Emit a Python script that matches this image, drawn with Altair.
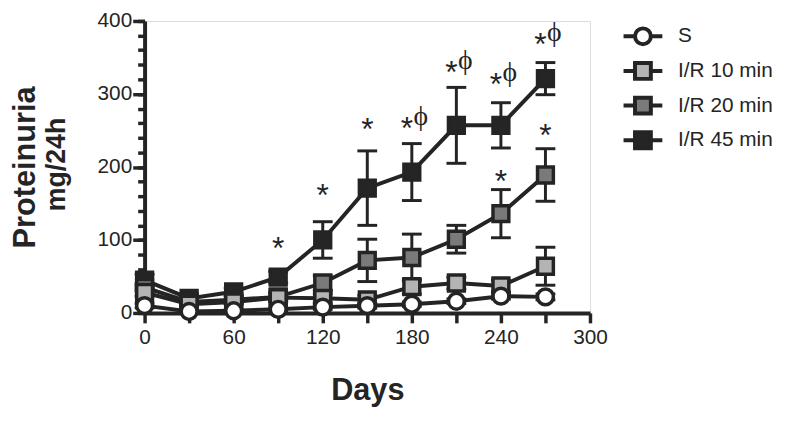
import altair as alt
import pandas as pd

# ---- data ----
days = [0, 30, 60, 90, 120, 150, 180, 210, 240, 270]
series_names = ["S", "I/R 10 min", "I/R 20 min", "I/R 45 min"]

s_mean = [10, 2, 3, 5, 8, 10, 12, 16, 23, 22]
s_err = [3, 2, 2, 2, 3, 3, 3, 3, 4, 4]

ir10_mean = [28, 12, 15, 21, 20, 18, 36, 41, 37, 64]
ir10_err = [5, 3, 3, 5, 6, 6, 10, 8, 8, 26]

ir20_mean = [35, 15, 18, 22, 41, 72, 76, 101, 136, 189]
ir20_err = [5, 4, 5, 6, 10, 29, 32, 19, 33, 36]

ir45_mean = [45, 20, 29, 49, 100, 171, 193, 257, 257, 321]
ir45_err = [8, 5, 5, 8, 25, 51, 39, 52, 31, 22]

# significance marks (day, anchor value)
star_days = [90, 120, 150, 240, 270]
star_vals = [99, 172, 263, 192, 255]
combo_days = [180, 210, 240, 270]
combo_vals = [264, 341, 325, 379]

fills = ["#ffffff", "#b4b4b4", "#7a7a7a", "#252525"]
ink = "#242424"
FONT = "Liberation Sans"

# ---- tables ----
rows = []
# drawing order: 45 min first, S last (on top)
for name, mean, err in [
    ("I/R 45 min", ir45_mean, ir45_err),
    ("I/R 20 min", ir20_mean, ir20_err),
    ("I/R 10 min", ir10_mean, ir10_err),
    ("S", s_mean, s_err),
]:
    for d, m, e in zip(days, mean, err):
        rows.append({"day": d, "value": m, "lo": m - e, "hi": m + e, "series": name, "lg": name})
df = pd.DataFrame(rows)

stars = pd.DataFrame({"day": star_days, "v": star_vals, "t": ["*"] * len(star_days)})
combos = pd.DataFrame({"day": combo_days, "v": combo_vals, "t": ["*"] * len(combo_days),
                       "p": ["\u03d5"] * len(combo_days)})

xscale = alt.Scale(domain=[0, 300], nice=False, zero=False)
yscale = alt.Scale(domain=[0, 400], nice=False)

xaxis = alt.Axis(
    values=list(range(0, 301, 30)),
    labelExpr="datum.value % 60 === 0 ? datum.label : ''",
    labelFlush=False,
    title="Days", titleFont=FONT, titleFontSize=31, titleFontWeight="bold", titleColor=ink,
    titlePadding=28,
    labelFont=FONT, labelFontSize=21, labelColor=ink, labelPadding=4,
    tickSize=10, tickWidth=3.5, tickColor=ink,
    domainWidth=4, domainColor=ink, grid=False,
)
yaxis = alt.Axis(
    orient="left",
    values=list(range(0, 401, 100)),
    labelFlush=False,
    title="Proteinuria", titleFont=FONT, titleFontSize=31, titleFontWeight="bold", titleColor=ink,
    titlePadding=56,
    labelFont=FONT, labelFontSize=21, labelColor=ink, labelPadding=1,
    tickSize=12, tickWidth=3.5, tickColor=ink,
    domainWidth=4, domainColor=ink, grid=False,
)
yminor = alt.Axis(
    orient="left", values=list(range(0, 401, 20)), labels=False, domain=False, title=None,
    tickSize=7, tickWidth=3.5, tickColor=ink, grid=False,
)

Xp = alt.X("day:Q", scale=xscale)
base = alt.Chart(df)

lines = base.mark_line(strokeWidth=4, color=ink).encode(
    x=alt.X("day:Q", scale=xscale, axis=xaxis),
    y=alt.Y("value:Q", scale=yscale, axis=yaxis),
    detail="series:N")

rules = base.mark_rule(strokeWidth=3, color=ink).encode(
    x=Xp, y=alt.Y("lo:Q", scale=yscale), y2="hi:Q")
cap_hi = base.mark_tick(orient="horizontal", size=20, thickness=3, color=ink, opacity=1).encode(
    x=Xp, y=alt.Y("hi:Q", scale=yscale))
cap_lo = base.mark_tick(orient="horizontal", size=20, thickness=3, color=ink, opacity=1).encode(
    x=Xp, y=alt.Y("lo:Q", scale=yscale))

points = base.mark_point(filled=True, size=256, strokeWidth=3.5, stroke=ink, opacity=1).encode(
    x=Xp,
    y=alt.Y("value:Q", scale=yscale),
    shape=alt.Shape("series:N", scale=alt.Scale(domain=series_names,
                    range=["circle", "square", "square", "square"]), legend=None),
    fill=alt.Fill("series:N", scale=alt.Scale(domain=series_names, range=fills), legend=None),
)

circ_path = "M-2.45,0H-1M1,0H2.45M-1,0A1,1,0,1,1,1,0A1,1,0,1,1,-1,0Z"
sq_path = "M-2.45,0H-1M1,0H2.45M-1,-1H1V1H-1Z"
leg = alt.Legend(
    title=None, orient="none", legendX=493, legendY=5, padding=0,
    symbolSize=256, symbolStrokeWidth=4, symbolStrokeColor=ink, symbolOpacity=1,
    labelFont=FONT, labelFontSize=21, labelColor=ink, labelOffset=25,
    rowPadding=2,
)
legend_layer = base.mark_point(filled=True, opacity=0, size=256, strokeWidth=4).encode(
    x=Xp,
    y=alt.Y("value:Q", scale=yscale),
    shape=alt.Shape("lg:N", scale=alt.Scale(domain=series_names,
                    range=[circ_path, sq_path, sq_path, sq_path]), legend=leg),
    fill=alt.Fill("lg:N", scale=alt.Scale(domain=series_names, range=fills), legend=leg),
    stroke=alt.Stroke("lg:N", scale=alt.Scale(domain=series_names, range=[ink] * 4), legend=leg),
)

star_txt = alt.Chart(stars).mark_text(font=FONT, fontSize=32, color=ink, baseline="alphabetic",
                                      dy=19).encode(
    x=Xp, y=alt.Y("v:Q", scale=yscale), text="t:N")
combo_star = alt.Chart(combos).mark_text(font=FONT, fontSize=32, color=ink, baseline="alphabetic",
                                         dy=19, dx=-5).encode(
    x=Xp, y=alt.Y("v:Q", scale=yscale), text="t:N")
combo_phi = alt.Chart(combos).mark_text(font="Liberation Serif", fontSize=28, color=ink,
                                        baseline="alphabetic", dy=5, dx=9).encode(
    x=Xp, y=alt.Y("v:Q", scale=yscale), text="p:N")

unit_title = alt.Chart(pd.DataFrame({"t": ["mg/24h"]})).mark_text(
    font=FONT, fontSize=27, fontWeight="bold", color=ink, angle=270,
    baseline="alphabetic", align="center").encode(
    x=alt.value(-80), y=alt.value(145), text="t:N")

main = alt.layer(
    lines, rules, cap_hi, cap_lo, points, legend_layer,
    star_txt, combo_star, combo_phi, unit_title,
).resolve_scale(shape="independent", fill="independent", stroke="independent")

minor = alt.Chart(pd.DataFrame({"v": [0, 400]})).mark_point(opacity=0).encode(
    y=alt.Y("v:Q", scale=yscale, axis=yminor))

chart = alt.layer(minor, main).resolve_scale(y="independent").properties(
    width=450, height=295,
    autosize=alt.AutoSizeParams(type="none"),
    padding={"left": 138, "top": 11, "right": 194, "bottom": 101},
).configure_view(stroke=None).configure(background="white")

chart.save("out.html", embed_options={"renderer": "svg", "actions": False})
